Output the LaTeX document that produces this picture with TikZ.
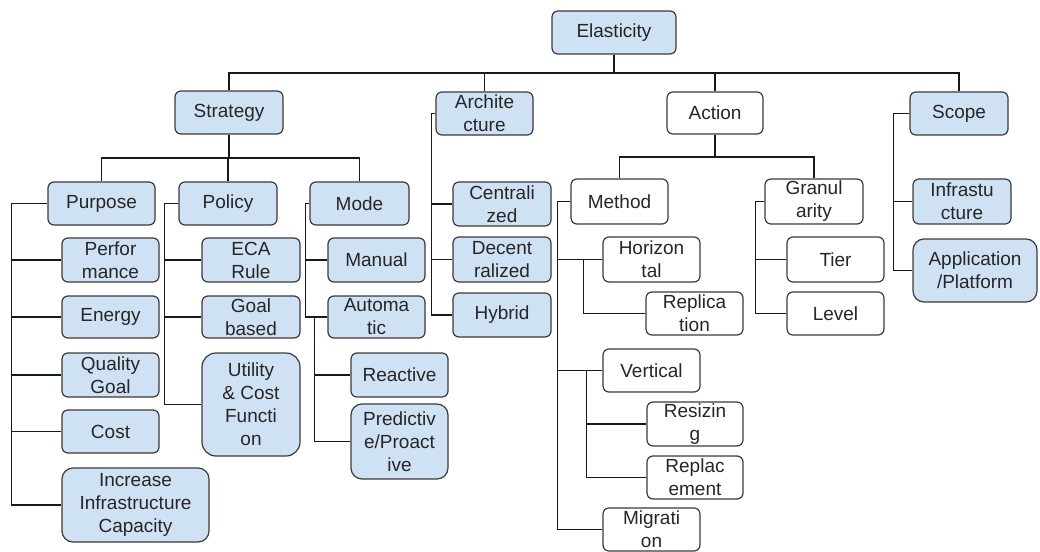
\documentclass[tikz,border=0pt]{standalone}
\usepackage{fontspec}
\setmainfont{Liberation Sans}
\definecolor{boxblue}{HTML}{CFE2F3}
\definecolor{boxline}{HTML}{3A3A3A}
\tikzset{
  box/.style={draw=boxline, line width=1.2pt, rounded corners=6pt, inner sep=0pt,
    align=center, font=\fontsize{19}{23}\selectfont, text=black!85},
  bluebox/.style={box, fill=boxblue},
  whitebox/.style={box, fill=white},
  big/.style={rounded corners=11pt},
  conn/.style={draw=black!90, line width=1.2pt},
}
\begin{document}
\begin{tikzpicture}[x=1pt,y=-1pt]
\useasboundingbox (0,0) rectangle (1040,551);
% level 0
\node[bluebox, minimum width=124pt, minimum height=43pt] (elast) at (614,32.5) {Elasticity};
% level 1
\node[bluebox, minimum width=108pt, minimum height=43pt] (strat) at (229,112.5) {Strategy};
\node[bluebox, minimum width=97pt, minimum height=43pt] (arch) at (484.5,113.5) {Archite\\cture};
\node[whitebox, minimum width=96pt, minimum height=42pt] (action) at (715,113) {Action};
\node[bluebox, minimum width=98pt, minimum height=43pt] (scope) at (959,113.5) {Scope};
% strategy children
\node[bluebox, minimum width=107pt, minimum height=43pt] (purpose) at (101.5,203.5) {Purpose};
\node[bluebox, minimum width=98pt, minimum height=43pt] (policy) at (228,203.5) {Policy};
\node[bluebox, minimum width=99pt, minimum height=43pt] (mode) at (359.5,203.5) {Mode};
% purpose children
\node[bluebox, minimum width=97pt, minimum height=44pt] (perf) at (110.5,260) {Perfor\\mance};
\node[bluebox, minimum width=97pt, minimum height=42pt] (energy) at (110.5,317) {Energy};
\node[bluebox, minimum width=97pt, minimum height=44pt] (quality) at (110.5,375) {Quality\\Goal};
\node[bluebox, minimum width=97pt, minimum height=43pt] (cost) at (110.5,431.5) {Cost};
\node[bluebox, big, minimum width=147pt, minimum height=74pt] (incr) at (135.5,505) {Increase\\Infrastructure\\Capacity};
% policy children
\node[bluebox, minimum width=98pt, minimum height=44pt] (eca) at (251,260) {ECA\\Rule};
\node[bluebox, minimum width=98pt, minimum height=42pt] (goal) at (251,317) {Goal\\based};
\node[bluebox, rounded corners=14pt, minimum width=98pt, minimum height=103pt] (util) at (251,404.5) {Utility\\\& Cost\\Functi\\on};
% mode children
\node[bluebox, minimum width=97pt, minimum height=44pt] (manual) at (376.5,260) {Manual};
\node[bluebox, minimum width=97pt, minimum height=42pt] (auto) at (376.5,317) {Automa\\tic};
\node[bluebox, minimum width=97pt, minimum height=44pt] (react) at (399.5,375) {Reactive};
\node[bluebox, big, minimum width=97pt, minimum height=75pt] (pred) at (399.5,441.5) {Predictiv\\e/Proact\\ive};
% architecture children
\node[bluebox, minimum width=98pt, minimum height=44pt] (central) at (502,204) {Centrali\\zed};
\node[bluebox, minimum width=98pt, minimum height=45pt] (decent) at (502,259.5) {Decent\\ralized};
\node[bluebox, minimum width=98pt, minimum height=44pt] (hybrid) at (502,315) {Hybrid};
% action children
\node[whitebox, minimum width=97pt, minimum height=45pt] (method) at (619.5,201.5) {Method};
\node[whitebox, minimum width=98pt, minimum height=45pt] (gran) at (814,201.5) {Granul\\arity};
% method children
\node[whitebox, minimum width=97pt, minimum height=45pt] (horiz) at (651.5,259.5) {Horizon\\tal};
\node[whitebox, minimum width=97pt, minimum height=43pt] (repli) at (694.5,313.5) {Replica\\tion};
\node[whitebox, minimum width=97pt, minimum height=43pt] (vert) at (651.5,370.5) {Vertical};
\node[whitebox, minimum width=96pt, minimum height=44pt] (resize) at (695,424) {Resizin\\g};
\node[whitebox, minimum width=96pt, minimum height=43pt] (replace) at (695,477.5) {Replac\\ement};
\node[whitebox, minimum width=97pt, minimum height=43pt] (migr) at (651.5,529.5) {Migrati\\on};
% granularity children
\node[whitebox, minimum width=97pt, minimum height=45pt] (tier) at (835.5,259.5) {Tier};
\node[whitebox, minimum width=97pt, minimum height=43pt] (level) at (835.5,313.5) {Level};
% scope children
\node[bluebox, minimum width=98pt, minimum height=45pt] (infra) at (962,201.5) {Infrastu\\cture};
\node[bluebox, big, minimum width=124pt, minimum height=63pt] (app) at (975,270.5) {Application\\/Platform};

% connectors
\coordinate (bus0) at (614,73);
\draw[conn] (elast.south) -- (bus0);
\draw[conn] (strat.north) |- (bus0) -| (scope.north);
\draw[conn] (bus0 -| arch.north) -- (arch.north);
\draw[conn] (bus0 -| action.north) -- (action.north);

\coordinate (bus1) at (229,158);
\draw[conn] (strat.south) -- (bus1);
\draw[conn] (purpose.north) |- (bus1) -| (mode.north);
\draw[conn] (bus1 -| policy.north) -- (policy.north);

\path (purpose.west) ++(-36,0) coordinate (tp);
\draw[conn] (purpose.west) -- (tp) |- (incr.west);
\foreach \c in {perf,energy,quality,cost}
  \draw[conn] (tp |- \c.west) -- (\c.west);

\path (policy.west) ++(-14,0) coordinate (tpo);
\draw[conn] (policy.west) -- (tpo) |- (util.west);
\foreach \c in {eca,goal}
  \draw[conn] (tpo |- \c.west) -- (\c.west);

\path (mode.west) ++(-4,0) coordinate (tm);
\draw[conn] (mode.west) -- (tm) |- (auto.west);
\draw[conn] (tm |- manual.west) -- (manual.west);

\path (auto.west) ++(-13,0) coordinate (ta);
\draw[conn] (ta) |- (pred.west);
\draw[conn] (ta |- react.west) -- (react.west);

\path (arch.west) ++(-4,0) coordinate (tar);
\draw[conn] (arch.west) -- (tar) |- (hybrid.west);
\foreach \c in {central,decent}
  \draw[conn] (tar |- \c.west) -- (\c.west);

\coordinate (bus2) at (715,157);
\draw[conn] (action.south) -- (bus2);
\draw[conn] (method.north) |- (bus2) -| (gran.north);

\path (method.west) ++(-13,0) coordinate (tme);
\draw[conn] (method.west) -- (tme) |- (migr.west);
\foreach \c in {horiz,vert}
  \draw[conn] (tme |- \c.west) -- (\c.west);

\path (horiz.west) ++(-19,0) coordinate (th);
\draw[conn] (th) |- (repli.west);

\path (vert.west) ++(-16,0) coordinate (tv);
\draw[conn] (tv) |- (replace.west);
\draw[conn] (tv |- resize.west) -- (resize.west);

\path (gran.west) ++(-9,0) coordinate (tg);
\draw[conn] (gran.west) -- (tg) |- (level.west);
\draw[conn] (tg |- tier.west) -- (tier.west);

\path (scope.west) ++(-16,0) coordinate (ts);
\draw[conn] (scope.west) -- (ts) |- (app.west);
\draw[conn] (ts |- infra.west) -- (infra.west);
\end{tikzpicture}
\end{document}
